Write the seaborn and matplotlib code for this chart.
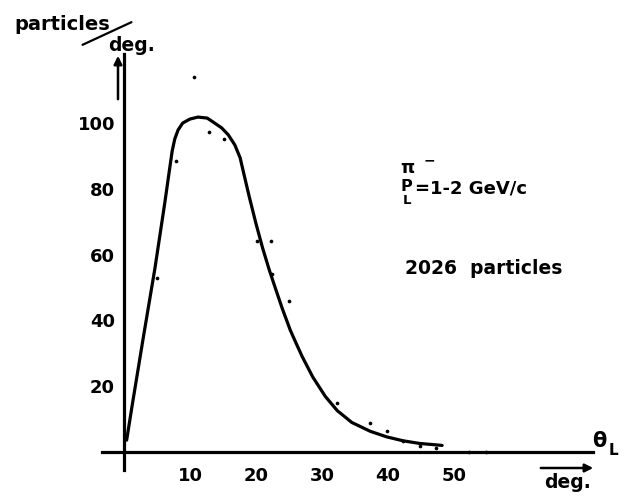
import matplotlib
matplotlib.use("Agg")
import matplotlib.pyplot as plt
import seaborn as sns
import pandas as pd

# ---- data ----
curve_deg = [0.4, 1.2, 2.9, 4.7, 6.2, 6.8, 7.3, 7.7, 8.2, 8.9, 10.0, 11.2, 12.6,
             13.5, 14.8, 15.8, 16.8, 17.6, 18.2, 19.0, 20.0, 21.0, 22.0, 23.0,
             24.0, 25.2, 26.0, 27.0, 28.6, 30.5, 32.3, 34.5, 37.3, 39.8, 42.3,
             44.8, 48.2]
curve_val = [3.6, 13.7, 34.5, 56, 76, 84.5, 91.5, 95.2, 97.9, 100, 101.2, 101.8,
             101.5, 100.3, 98.5, 96.4, 93.3, 89.4, 84.2, 77.4, 69.4, 62.0, 55.4,
             49.4, 43.5, 37.0, 33.4, 29.0, 22.8, 16.9, 12.6, 9.0, 6.3, 4.6, 3.4,
             2.6, 2.0]

dot_deg = [5.0, 7.9, 10.6, 12.9, 15.2, 20.1, 22.3, 22.4, 25.0, 32.3, 37.3, 39.8,
           42.3, 44.8, 47.3, 52.3, 54.8]
dot_val = [53, 88.4, 114, 97.3, 95.1, 64.1, 64.1, 54.1, 45.9, 14.9, 8.8, 6.4,
           3.3, 1.8, 1.2, 0, 0]

x_ticks = [10, 20, 30, 40, 50]
y_ticks = [20, 40, 60, 80, 100]

curve = pd.DataFrame({"deg": curve_deg, "val": curve_val})
dots = pd.DataFrame({"deg": dot_deg, "val": dot_val})

sns.set_style("white")
plt.rcParams["font.family"] = ["DejaVu Sans"]
plt.rcParams["font.weight"] = "bold"

W, H = 628, 498
fig = plt.figure(figsize=(W / 100, H / 100), dpi=100)
ax = fig.add_axes([0, 0, 1, 1])
ax.set_facecolor("white")

sns.lineplot(data=curve, x="deg", y="val", sort=False, estimator=None,
             color="black", lw=2.3, ax=ax, solid_joinstyle="round",
             solid_capstyle="round")
sns.scatterplot(data=dots, x="deg", y="val", color="black", s=7,
                linewidth=0, ax=ax, zorder=3)

# pixel mapping: x_px = 124 + 6.6*deg ; y_px = 452 - 3.29*val
ax.set_xlim(-124 / 6.6, (W - 124) / 6.6)
ax.set_ylim(-(H - 452) / 3.29, 452 / 3.29)

for s in ["top", "right"]:
    ax.spines[s].set_visible(False)
ax.spines["left"].set_position(("data", 0))
ax.spines["bottom"].set_position(("data", 0))
ax.spines["left"].set_bounds(-5.5, 121)
ax.spines["bottom"].set_bounds(-3.3, 71)
for s in ["left", "bottom"]:
    ax.spines[s].set_linewidth(2.3)
    ax.spines[s].set_color("black")

ax.set_xticks(x_ticks)
ax.set_yticks(y_ticks)
ax.set_xticklabels([str(t) for t in x_ticks])
ax.set_yticklabels([str(t) for t in y_ticks])
ax.tick_params(axis="both", direction="inout", length=7, width=1.8,
               colors="black", labelsize=13)
ax.tick_params(axis="x", pad=7)
ax.tick_params(axis="y", pad=3)
for lab in ax.get_xticklabels() + ax.get_yticklabels():
    lab.set_fontweight("bold")
ax.set_xlabel("")
ax.set_ylabel("")


def fp(x, y):
    """reference pixel (top-left origin) -> figure pixels"""
    return (x, H - y)


kw = dict(xycoords="figure pixels", fontweight="bold", color="black")

# top-left unit label
ax.annotate("particles", xy=fp(14, 24), ha="left", va="center", fontsize=14, **kw)
ax.annotate("deg.", xy=fp(108, 45), ha="left", va="center", fontsize=13.5, **kw)
ax.annotate("", xy=fp(134, 21), xytext=fp(80, 46), xycoords="figure pixels",
            textcoords="figure pixels",
            arrowprops=dict(arrowstyle="-", lw=1.6, color="black"))
ax.annotate("", xy=fp(118, 53), xytext=fp(118, 102), xycoords="figure pixels",
            textcoords="figure pixels",
            arrowprops=dict(arrowstyle="-|>", lw=1.8, color="black",
                            mutation_scale=12))

# x axis label
ax.annotate("θ", xy=fp(592, 441), ha="left", va="center", fontsize=15, **kw)
ax.annotate("L", xy=fp(609, 450), ha="left", va="center", fontsize=11, **kw)
ax.annotate("deg.", xy=fp(544, 482), ha="left", va="center", fontsize=13.5, **kw)
ax.annotate("", xy=fp(596, 468), xytext=fp(538, 468), xycoords="figure pixels",
            textcoords="figure pixels",
            arrowprops=dict(arrowstyle="-|>", lw=1.8, color="black",
                            mutation_scale=12))

# legend-like text block
ax.annotate("π", xy=fp(400, 168), ha="left", va="center", fontsize=13, **kw)
ax.annotate("−", xy=fp(424, 160), ha="left", va="center", fontsize=10, **kw)
ax.annotate("P", xy=fp(401, 186), ha="left", va="center", fontsize=11.5, **kw)
ax.annotate("L", xy=fp(403, 200), ha="left", va="center", fontsize=9.5, **kw)
ax.annotate("=1-2 GeV/c", xy=fp(415, 188), ha="left", va="center", fontsize=13, **kw)
ax.annotate("2026  particles", xy=fp(405, 268), ha="left", va="center",
            fontsize=13.5, **kw)

fig.savefig("out.png", dpi=100, facecolor="white")
